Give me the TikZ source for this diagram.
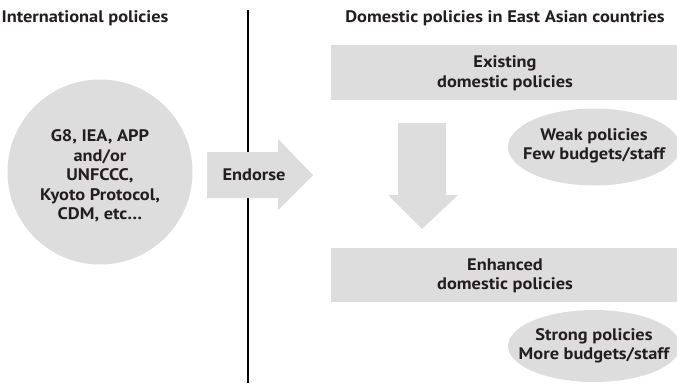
\documentclass[tikz,border=0pt]{standalone}
\usepackage{fontspec}
\setmainfont{PT Sans}[FakeStretch=1.1]
\usetikzlibrary{shapes.geometric}
\definecolor{boxgray}{RGB}{221,221,222}
\definecolor{txt}{RGB}{35,31,32}
\begin{document}
\begin{tikzpicture}[x=1pt,y=-1pt,
  lbl/.style={font=\bfseries\fontsize{16.7}{19.5}\selectfont,text=txt,align=center,inner sep=0pt},
  fillshape/.style={fill=boxgray,draw=none}]
\useasboundingbox (0,0) rectangle (677,383);
% headers
\node[lbl] (hint) at (85,18) {International policies};
\node[lbl] (hdom) at (505,18) {Domestic policies in East Asian countries};
% divider
\draw[line width=2pt,black] (248,10) -- (248,383);
% circle
\node[fillshape,circle,minimum size=185pt] (circ) at (100,172) {};
\node[lbl] (circtext) at (100,176) {G8, IEA, APP\\and/or\\UNFCCC,\\Kyoto Protocol,\\CDM, etc\ldots};
% endorse arrow
\fill[boxgray] (207,152) -- (278,152) -- (278,139) -- (313,175) -- (278,210) -- (278,198) -- (207,198) -- cycle;
\node[lbl] (endorse) at (254,175) {Endorse};
% boxes
\node[fillshape,rectangle,minimum width=346pt,minimum height=55pt,anchor=north west] (exist) at (331,45) {};
\node[lbl] (existtext) at (505,73) {Existing\\domestic policies};
\node[fillshape,rectangle,minimum width=346pt,minimum height=54pt,anchor=north west] (enh) at (331,248) {};
\node[lbl] (enhtext) at (505,276) {Enhanced\\domestic policies};
% down arrow
\fill[boxgray] (398,123) -- (446,123) -- (446,195) -- (458,195) -- (422,229) -- (388,195) -- (398,195) -- cycle;
% ellipses
\node[fillshape,ellipse,minimum width=172pt,minimum height=77pt] (weak) at (594,147) {};
\node[lbl] (weaktext) at (594,146) {Weak policies\\Few budgets/staff};
\node[fillshape,ellipse,minimum width=172pt,minimum height=72pt] (strong) at (594,346) {};
\node[lbl] (strongtext) at (594,346) {Strong policies\\More budgets/staff};
\end{tikzpicture}
\end{document}
